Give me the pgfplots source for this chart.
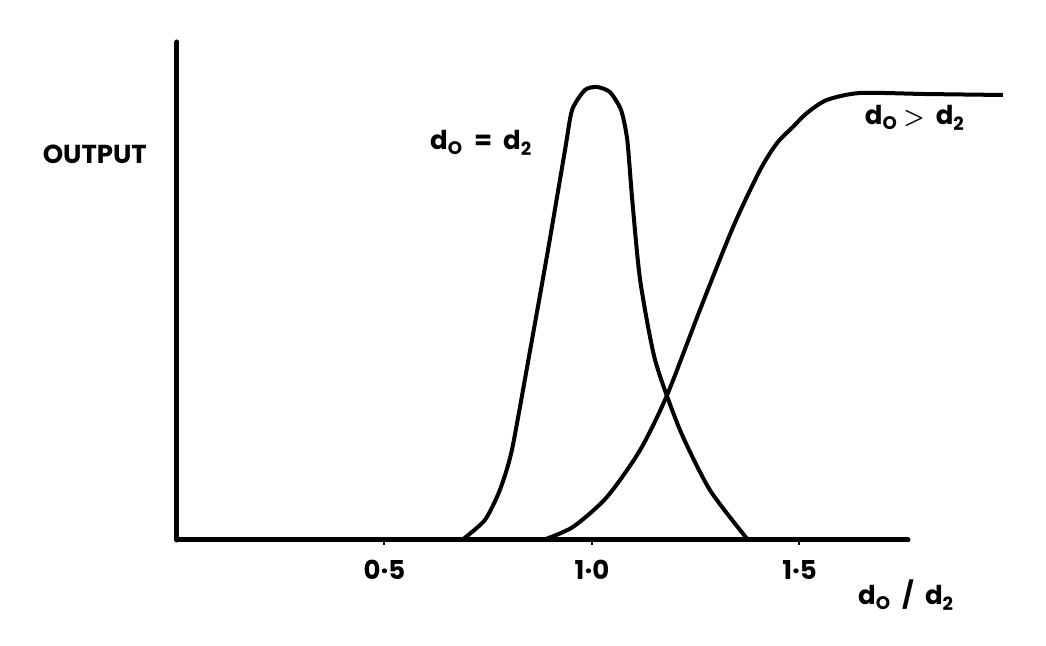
\documentclass[border=0pt]{standalone}
\usepackage{pgfplots}
\pgfplotsset{compat=1.18}
\usepackage{fontspec}
\setmainfont{Poppins}
\begin{document}
\begin{tikzpicture}
\fontsize{13}{15}\selectfont
\begin{axis}[
    scale only axis,
    width=365.5pt, height=249pt,
    xmin=0, xmax=1.7614,
    ymin=0, ymax=4.98,
    axis x line=bottom, axis y line=left,
    axis line style={-, line width=2.5pt, line cap=round},
    clip=false,
    xtick={0.5,1.0,1.5},
    xticklabels={0·5,1·0,1·5},
    ytick=\empty,
    tick align=outside,
    major tick length=2.5pt,
    tick style={line width=1pt, black},
    xticklabel style={font=\fontsize{13}{15}\selectfont\bfseries, yshift=-3pt},
]
% d0 = d2
\addplot[line width=2pt, smooth, tension=0.4] coordinates {
    (0.687,0) (0.742,0.20) (0.778,0.50) (0.807,0.90) (0.851,1.90)
    (0.894,2.90) (0.935,3.90) (0.952,4.30) (0.983,4.50) (1.012,4.53)
    (1.043,4.48) (1.070,4.30) (1.085,4.00) (1.097,3.40) (1.116,2.60)
    (1.152,1.80) (1.212,1.10) (1.284,0.50) (1.376,0)
};
% d0 > d2
\addplot[line width=2pt, smooth, tension=0.45] coordinates {
    (0.882,0) (0.954,0.13) (1.036,0.43) (1.116,0.90) (1.181,1.45)
    (1.260,2.30) (1.340,3.13) (1.405,3.70) (1.446,3.97) (1.484,4.13)
    (1.518,4.27) (1.566,4.40) (1.646,4.47) (1.800,4.46) (1.990,4.45)
};
\node[font=\bfseries] at (axis cs:-0.198,3.86) {OUTPUT};
\node[font=\bfseries, anchor=base] at (axis cs:0.733,3.90) {d\textsubscript{O}\ \ =\ \ d\textsubscript{2}};
\node[font=\bfseries, anchor=base] at (axis cs:1.778,4.15) {d\textsubscript{O}\ {\boldmath$>$}\ \ d\textsubscript{2}};
\node[font=\bfseries, anchor=base] at (axis cs:1.757,-0.65) {d\textsubscript{O}\ \ /\ \ d\textsubscript{2}};
\path (axis cs:-0.4265,-1.06) rectangle (axis cs:2.094,5.40);
\end{axis}
\end{tikzpicture}
\end{document}
